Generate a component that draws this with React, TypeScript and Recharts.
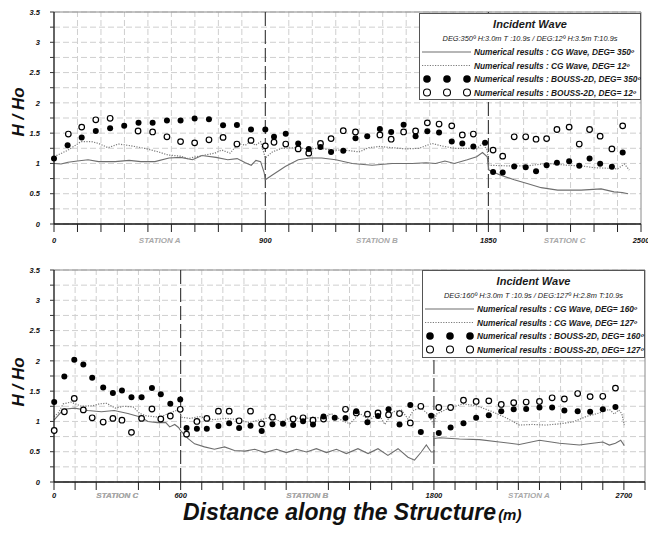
import React from "react";
import {
  CartesianGrid,
  ComposedChart,
  Legend,
  Line,
  ReferenceLine,
  Scatter,
  XAxis,
  YAxis,
} from "recharts";

const FONT = "'Liberation Sans', Arial, Helvetica, sans-serif";

type Pt = { x: number; y: number };
type Station = { at: number; name: string };

const pairs = (rows: number[][]): Pt[] => rows.map(([x, y]) => ({ x, y }));
const zip = (xs: number[], ys: number[]): Pt[] => xs.map((x, i) => ({ x, y: ys[i] }));

// ---------- upper panel : DEG 350 / DEG 12 ----------
const upperCg350 = pairs([
  [0, 1.0], [30, 0.99], [60, 1.02], [100, 1.04], [145, 1.06], [190, 1.03], [260, 1.03],
  [320, 1.05], [370, 1.03], [430, 1.03], [490, 1.09], [540, 1.1], [590, 1.06], [630, 1.13],
  [690, 1.1], [740, 1.06], [780, 1.08], [815, 1.01], [840, 0.97], [860, 1.05], [880, 1.03],
  [895, 0.85], [900, 0.73], [930, 0.81], [985, 0.95], [1040, 1.06], [1090, 1.09], [1140, 1.09],
  [1200, 1.06], [1270, 1.0], [1355, 0.97], [1440, 1.0], [1525, 1.0], [1585, 1.01], [1625, 1.0],
  [1665, 1.04], [1705, 1.0], [1760, 1.06], [1800, 1.11], [1825, 1.18], [1845, 1.11],
  [1852, 0.89], [1900, 0.81], [1960, 0.73], [2015, 0.67], [2075, 0.6], [2145, 0.56],
  [2245, 0.56], [2330, 0.58], [2385, 0.53], [2420, 0.52], [2445, 0.5],
]);

const upperCg12 = pairs([
  [0, 1.11], [60, 1.22], [115, 1.36], [160, 1.36], [190, 1.33], [230, 1.26], [275, 1.32],
  [330, 1.29], [385, 1.25], [445, 1.19], [485, 1.14], [540, 1.12], [570, 1.08], [630, 1.13],
  [685, 1.17], [715, 1.22], [750, 1.17], [785, 1.33], [815, 1.3], [835, 1.36], [858, 1.3],
  [880, 1.36], [900, 1.09], [930, 1.19], [970, 1.25], [1030, 1.26], [1085, 1.24], [1130, 1.25],
  [1185, 1.22], [1240, 1.22], [1300, 1.19], [1340, 1.26], [1385, 1.28], [1440, 1.26],
  [1500, 1.24], [1555, 1.25], [1610, 1.33], [1650, 1.29], [1705, 1.25], [1760, 1.25],
  [1800, 1.24], [1825, 1.33], [1845, 1.22], [1852, 0.97], [1930, 0.96], [2015, 0.96],
  [2100, 1.0], [2185, 0.97], [2245, 0.96], [2300, 0.93], [2360, 0.92], [2400, 0.91],
  [2430, 0.99], [2450, 0.89],
]);

const upperBoussX350 = [
  0, 58, 118, 178, 239, 299, 360, 420, 481, 539, 599, 660, 720, 779, 839, 900, 937, 987,
  1040, 1085, 1135, 1180, 1232, 1284, 1334, 1388, 1436, 1489, 1540, 1590, 1640, 1694, 1739,
  1786, 1836, 1870, 1911, 1960, 2009, 2053, 2098, 2142, 2194, 2237, 2281, 2326, 2376, 2422,
];
const upperBoussY350 = [
  1.08, 1.3, 1.43, 1.535, 1.58, 1.62, 1.67, 1.67, 1.71, 1.71, 1.74, 1.73, 1.63, 1.635, 1.56,
  1.56, 1.44, 1.49, 1.33, 1.24, 1.27, 1.19, 1.21, 1.415, 1.45, 1.57, 1.52, 1.64, 1.45, 1.53,
  1.51, 1.36, 1.33, 1.28, 1.34, 0.86, 0.85, 0.95, 0.935, 0.87, 0.97, 1.01, 1.035, 0.96, 1.08,
  0.995, 0.945, 1.18,
];

const upperBoussX12 = [
  61, 118, 178, 239, 358, 420, 481, 539, 599, 660, 720, 779, 839, 900, 937, 987, 1040, 1085,
  1135, 1180, 1232, 1284, 1388, 1436, 1489, 1540, 1590, 1640, 1694, 1739, 1786, 1870, 1911,
  1960, 2009, 2053, 2098, 2142, 2194, 2237, 2281, 2326, 2376, 2422,
];
const upperBoussY12 = [
  1.485, 1.6, 1.72, 1.745, 1.535, 1.52, 1.44, 1.36, 1.34, 1.39, 1.43, 1.32, 1.38, 1.29, 1.35,
  1.32, 1.24, 1.17, 1.33, 1.41, 1.54, 1.52, 1.47, 1.4, 1.52, 1.535, 1.67, 1.65, 1.62, 1.47,
  1.485, 1.22, 1.12, 1.44, 1.44, 1.4, 1.41, 1.56, 1.6, 1.32, 1.56, 1.45, 1.24, 1.62,
];

// ---------- lower panel : DEG 160 / DEG 127 ----------
const lowerCg160 = pairs([
  [0, 1.02], [20, 1.1], [45, 1.2], [98, 1.22], [160, 1.18], [225, 1.16], [285, 1.18],
  [350, 1.13], [413, 1.07], [445, 1.0], [490, 0.98], [530, 0.98], [548, 0.91], [572, 0.95],
  [590, 0.9], [602, 0.84], [634, 0.72], [666, 0.63], [713, 0.58], [760, 0.54], [808, 0.58],
  [855, 0.52], [904, 0.51], [951, 0.54], [999, 0.485], [1054, 0.54], [1101, 0.485],
  [1149, 0.54], [1196, 0.495], [1243, 0.55], [1291, 0.485], [1338, 0.54], [1385, 0.47],
  [1440, 0.55], [1488, 0.47], [1535, 0.55], [1582, 0.44], [1630, 0.55], [1677, 0.41],
  [1708, 0.36], [1740, 0.495], [1764, 0.61], [1787, 0.495], [1800, 0.5], [1800, 0.72],
  [1827, 0.73], [1921, 0.71], [2016, 0.7], [2110, 0.66], [2205, 0.62], [2300, 0.69],
  [2395, 0.64], [2489, 0.61], [2552, 0.64], [2600, 0.66], [2631, 0.61], [2660, 0.64],
  [2685, 0.69], [2702, 0.6],
]);

const lowerCg127 = pairs([
  [0, 1.08], [20, 1.14], [44, 1.29], [80, 1.32], [130, 1.25], [186, 1.26], [215, 1.29],
  [249, 1.3], [290, 1.22], [330, 1.25], [375, 1.24], [407, 1.13], [439, 1.09], [502, 1.07],
  [549, 1.14], [595, 1.2], [602, 1.07], [644, 1.05], [691, 1.08], [754, 1.03], [817, 1.05],
  [880, 1.03], [920, 0.98], [967, 1.02], [1030, 1.07], [1077, 0.99], [1125, 1.07],
  [1180, 1.04], [1227, 1.07], [1275, 1.05], [1314, 1.13], [1362, 1.02], [1401, 0.96],
  [1449, 1.13], [1496, 1.02], [1535, 1.15], [1567, 0.95], [1606, 1.16], [1646, 1.19],
  [1677, 1.04], [1705, 1.19], [1740, 1.22], [1772, 1.12], [1800, 0.94], [1811, 1.12],
  [1858, 1.2], [1937, 1.29], [2000, 1.26], [2070, 1.17], [2142, 1.06], [2205, 0.94],
  [2268, 0.95], [2332, 0.94], [2395, 0.96], [2458, 0.99], [2521, 1.08], [2584, 1.14],
  [2631, 1.2], [2655, 1.12], [2675, 1.19], [2690, 1.13], [2702, 0.94],
]);

const lowerBoussX160 = [
  1, 49, 96, 139, 181, 233, 279, 322, 367, 415, 464, 506, 551, 598, 628, 677, 724, 779, 830,
  877, 931, 984, 1035, 1085, 1133, 1180, 1227, 1277, 1330, 1381, 1432, 1485, 1535, 1585, 1637,
  1688, 1738, 1787, 1823, 1879, 1940, 2000, 2060, 2119, 2178, 2237, 2300, 2360, 2418, 2481,
  2540, 2600, 2660,
];
const lowerBoussY160 = [
  1.32, 1.74, 2.02, 1.94, 1.72, 1.56, 1.47, 1.51, 1.4, 1.4, 1.55, 1.45, 1.29, 1.36, 0.89, 0.88,
  0.88, 0.925, 0.97, 0.89, 0.93, 0.84, 0.955, 0.96, 0.94, 1.005, 0.95, 1.08, 1.06, 1.055, 1.17,
  0.985, 1.09, 1.2, 0.95, 1.27, 0.825, 1.095, 0.81, 0.9, 0.97, 1.06, 1.1, 1.17, 1.2, 1.205,
  1.23, 1.23, 1.18, 1.17, 1.16, 1.2, 1.24,
];

const lowerBoussX127 = [
  1, 49, 96, 139, 181, 233, 279, 322, 367, 415, 464, 506, 551, 598, 628, 677, 724, 779, 830,
  877, 931, 984, 1035, 1133, 1180, 1227, 1277, 1381, 1432, 1485, 1535, 1585, 1637, 1688, 1738,
  1823, 1879, 1940, 2000, 2060, 2119, 2178, 2237, 2300, 2360, 2418, 2481, 2540, 2600, 2660,
];
const lowerBoussY127 = [
  0.85, 1.16, 1.38, 1.19, 1.06, 0.99, 1.05, 1.02, 0.82, 1.05, 1.205, 1.04, 1.09, 1.2, 0.79, 1.0,
  1.05, 1.17, 1.17, 1.01, 1.17, 0.96, 1.07, 1.04, 1.06, 1.02, 1.04, 1.2, 1.14, 1.12, 1.14, 1.11,
  1.13, 0.975, 1.25, 1.23, 1.23, 1.35, 1.33, 1.34, 1.28, 1.31, 1.32, 1.33, 1.39, 1.37, 1.46,
  1.41, 1.415, 1.55,
];

// axis labels
const yTicks = [0, 0.25, 0.5, 0.75, 1, 1.25, 1.5, 1.75, 2, 2.25, 2.5, 2.75, 3, 3.25, 3.5];
const upperLabeled = [0, 900, 1850, 2500];
const upperBounds = [900, 1850];
const upperStations: Station[] = [
  { at: 450, name: "STATION A" },
  { at: 1375, name: "STATION B" },
  { at: 2175, name: "STATION C" },
];
const lowerLabeled = [0, 600, 1800, 2700];
const lowerBounds = [600, 1800];
const lowerStations: Station[] = [
  { at: 300, name: "STATION C" },
  { at: 1200, name: "STATION B" },
  { at: 2250, name: "STATION A" },
];

const upperInfo = "DEG:350º  H:3.0m  T :10.9s / DEG:12º  H:3.5m  T:10.9s";
const upperNames = [
  "Numerical results : CG Wave, DEG= 350º",
  "Numerical results : CG Wave, DEG= 12º",
  "Numerical results : BOUSS-2D, DEG= 350º",
  "Numerical results : BOUSS-2D, DEG= 12º",
];
const lowerInfo = "DEG:160º  H:3.0m  T :10.9s / DEG:127º  H:2.8m  T:10.9s";
const lowerNames = [
  "Numerical results : CG Wave, DEG= 160º",
  "Numerical results : CG Wave, DEG= 127º",
  "Numerical results : BOUSS-2D, DEG= 160º",
  "Numerical results : BOUSS-2D, DEG= 127º",
];

const hundreds = (max: number) => {
  const out: number[] = [];
  for (let v = 0; v <= max; v += 100) out.push(v);
  return out;
};

function XTick(props: any) {
  const { x, y, payload, labeled, stations, dy } = props;
  const v = payload.value as number;
  const st = stations.find((s: Station) => s.at === v);
  if (st) {
    return (
      <text x={x} y={y + dy} textAnchor="middle" fontFamily={FONT} fontSize={8}
        fontStyle="italic" fontWeight="bold" fill="#a8a8a8">
        {st.name}
      </text>
    );
  }
  return (
    <g>
      <line x1={x} x2={x} y1={y} y2={y + 8} stroke="#222" strokeWidth={1} />
      {labeled.includes(v) ? (
        <text x={x} y={y + dy} textAnchor="middle" fontFamily={FONT} fontSize={7.5}
          fontStyle="italic" fontWeight="bold" fill="#111">
          {v}
        </text>
      ) : null}
    </g>
  );
}

function YTitle(props: any) {
  const { viewBox, shift } = props;
  const cx = viewBox.x + 8;
  const cy = viewBox.y + viewBox.height / 2 + shift;
  return (
    <text x={cx} y={cy} transform={`rotate(-90 ${cx} ${cy})`} textAnchor="middle"
      dominantBaseline="central" fontFamily={FONT} fontSize={17} fontStyle="italic"
      fontWeight="bold" fill="#111">
      H / Ho
    </text>
  );
}

function DistanceTitle(props: any) {
  const { viewBox } = props;
  return (
    <text x={viewBox.x + 129} y={viewBox.y + 38} fontFamily={FONT} fontStyle="italic"
      fontWeight="bold" fill="#111">
      <tspan fontSize={23}>Distance along the Structure</tspan>
      <tspan fontSize={15} dx={2}>(m)</tspan>
    </text>
  );
}

function WaveLegend({ width, height, info, names }: any) {
  const rows = [39, 52.5, 66, 79.5];
  const txt = { fontFamily: FONT, fontStyle: "italic", fontWeight: "bold", fill: "#1a1a1a" } as any;
  return (
    <svg width={width} height={height} style={{ display: "block" }}>
      <rect x={0.5} y={0.5} width={width - 1} height={height - 1} fill="#fff" stroke="#555" />
      <text x={width / 2} y={14.5} textAnchor="middle" fontSize={11} {...txt}>Incident Wave</text>
      <text x={width / 2} y={27.5} textAnchor="middle" fontSize={7.4} {...txt} fontWeight="normal">
        {info}
      </text>
      <line x1={3} x2={52} y1={rows[0]} y2={rows[0]} stroke="#6e6e6e" strokeWidth={1.1} />
      <line x1={3} x2={52} y1={rows[1]} y2={rows[1]} stroke="#7a7a7a" strokeWidth={1.1}
        strokeDasharray="1.2 1.4" />
      {[8, 28, 48].map((cx) => (
        <g key={cx}>
          <circle cx={cx} cy={rows[2]} r={3.8} fill="#000" />
          <circle cx={cx} cy={rows[3]} r={3.5} fill="#fff" stroke="#000" strokeWidth={1.1} />
        </g>
      ))}
      {names.map((n: string, i: number) => (
        <text key={n} x={55} y={rows[i] + 3} fontSize={8.3} {...txt}>{n}</text>
      ))}
    </svg>
  );
}

type PanelProps = {
  height: number;
  xMax: number;
  xAxisHeight: number;
  margin: { top: number; right: number; left: number; bottom: number };
  solid: Pt[];
  dotted: Pt[];
  filled: Pt[];
  open: Pt[];
  labeled: number[];
  stations: Station[];
  bounds: number[];
  legendBox: { left: number; top: number; width: number; height: number };
  info: string;
  names: string[];
  titleShift: number;
  labelDy: number;
  withDistance?: boolean;
};

function WavePanel(p: PanelProps) {
  const marks = Array.from(new Set([...hundreds(p.xMax), ...p.labeled])).sort((a, b) => a - b);
  const ticks = [...marks, ...p.stations.map((s) => s.at)].sort((a, b) => a - b);
  const gridX = marks.filter((v) => v > 0 && v < p.xMax && !p.bounds.includes(v) && v % 100 === 0);
  const lb = p.legendBox;

  return (
    <ComposedChart width={648} height={p.height} margin={p.margin}>
      <CartesianGrid vertical={false} stroke="#cfcfcf" strokeDasharray="6 3" />
      {gridX.map((v) => (
        <ReferenceLine key={`g${v}`} x={v} stroke="#cfcfcf" strokeDasharray="6 3" />
      ))}
      <ReferenceLine y={3.5} stroke="#8a8a8a" />
      <ReferenceLine x={p.xMax} stroke="#8a8a8a" />
      {p.bounds.map((v) => (
        <ReferenceLine key={`b${v}`} x={v} stroke="#333" strokeWidth={1.1} strokeDasharray="14 4" />
      ))}
      <XAxis
        type="number"
        dataKey="x"
        domain={[0, p.xMax]}
        ticks={ticks}
        interval={0}
        tickSize={0}
        tickMargin={0}
        tickLine={false}
        height={p.xAxisHeight}
        axisLine={{ stroke: "#111", strokeWidth: 1.3 }}
        tick={(t: any) => (
          <XTick {...t} labeled={p.labeled} stations={p.stations} dy={p.labelDy} />
        )}
        label={p.withDistance ? <DistanceTitle /> : undefined}
      />
      <YAxis
        type="number"
        dataKey="y"
        domain={[0, 3.5]}
        ticks={yTicks}
        interval={0}
        width={44}
        tickSize={4}
        tickMargin={10}
        axisLine={{ stroke: "#111", strokeWidth: 1.3 }}
        tickLine={{ stroke: "#333" }}
        tickFormatter={(v: number) => (v % 0.5 === 0 ? String(v) : "")}
        tick={{ fontFamily: FONT, fontSize: 7.5, fontStyle: "italic", fontWeight: "bold", fill: "#111" }}
        label={<YTitle shift={p.titleShift} />}
      />
      <Line data={p.solid} dataKey="y" type="linear" dot={false} stroke="#6e6e6e"
        strokeWidth={1.1} isAnimationActive={false} />
      <Line data={p.dotted} dataKey="y" type="linear" dot={false} stroke="#7a7a7a"
        strokeWidth={1.2} strokeDasharray="1.2 1.4" isAnimationActive={false} />
      <Scatter data={p.open} dataKey="y" isAnimationActive={false}
        shape={(s: any) => <circle cx={s.cx} cy={s.cy} r={2.8} fill="#fff" stroke="#000" strokeWidth={1.2} />} />
      <Scatter data={p.filled} dataKey="y" isAnimationActive={false}
        shape={(s: any) => <circle cx={s.cx} cy={s.cy} r={3} fill="#000" />} />
      <Legend
        layout="horizontal"
        verticalAlign="middle"
        align="center"
        wrapperStyle={{ left: lb.left, top: lb.top, width: lb.width, height: lb.height }}
        content={() => <WaveLegend width={lb.width} height={lb.height} info={p.info} names={p.names} />}
      />
    </ComposedChart>
  );
}

export default function App() {
  return (
    <div style={{ position: "absolute", left: 0, top: 0, width: 648, height: 533, background: "#fff" }}>
      <div style={{ position: "absolute", left: 0, top: 0 }}>
        <WavePanel
          height={250}
          xMax={2500}
          xAxisHeight={20}
          margin={{ top: 12, right: 7, left: 10, bottom: 6 }}
          solid={upperCg350}
          dotted={upperCg12}
          filled={zip(upperBoussX350, upperBoussY350)}
          open={zip(upperBoussX12, upperBoussY12)}
          labeled={upperLabeled}
          stations={upperStations}
          bounds={upperBounds}
          legendBox={{ left: 419, top: 12.5, width: 222, height: 87 }}
          info={upperInfo}
          names={upperNames}
          titleShift={-6}
          labelDy={19}
        />
      </div>
      <div style={{ position: "absolute", left: 0, top: 258 }}>
        <WavePanel
          height={275}
          xMax={2800}
          xAxisHeight={51}
          margin={{ top: 12, right: 3, left: 10, bottom: 0 }}
          solid={lowerCg160}
          dotted={lowerCg127}
          filled={zip(lowerBoussX160, lowerBoussY160)}
          open={zip(lowerBoussX127, lowerBoussY127)}
          labeled={lowerLabeled}
          stations={lowerStations}
          bounds={lowerBounds}
          legendBox={{ left: 422, top: 12, width: 223, height: 88 }}
          info={lowerInfo}
          names={lowerNames}
          titleShift={6}
          labelDy={15.5}
          withDistance
        />
      </div>
    </div>
  );
}
